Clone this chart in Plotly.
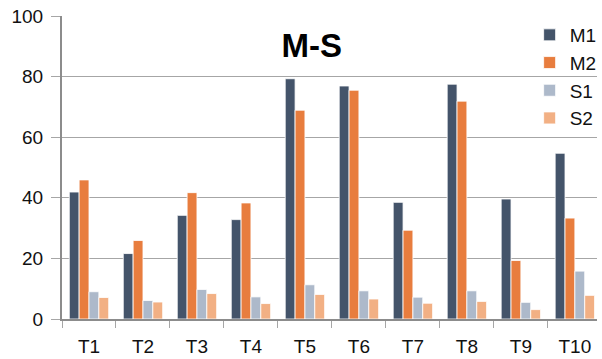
import plotly.graph_objects as go

categories = ["T1", "T2", "T3", "T4", "T5", "T6", "T7", "T8", "T9", "T10"]
m1 = [41.9, 21.6, 34.2, 32.8, 79.3, 76.9, 38.5, 77.5, 39.6, 54.7]
m2 = [45.9, 25.9, 41.7, 38.3, 68.9, 75.5, 29.3, 71.9, 19.3, 33.3]
s1 = [9.0, 6.1, 9.75, 7.3, 11.3, 9.3, 7.2, 9.3, 5.5, 15.8]
s2 = [7.1, 5.6, 8.4, 5.1, 8.1, 6.6, 5.2, 5.8, 3.1, 7.8]
series_names = ["M1", "M2", "S1", "S2"]
series_colors = ["#44546A", "#E87D3E", "#ADB9CA", "#F2B084"]
y_ticks = [0, 20, 40, 60, 80, 100]

FONT = "Liberation Sans"
fig = go.Figure()
for name, vals, col in zip(series_names, [m1, m2, s1, s2], series_colors):
    fig.add_trace(go.Bar(
        x=categories, y=vals, name=name, legendgroup=name,
        marker=dict(color=col, line=dict(color="white", width=0.8)),
    ))

fig.update_layout(
    width=602, height=359,
    margin=dict(l=62, r=0, t=16, b=40),
    paper_bgcolor="white", plot_bgcolor="white",
    barmode="group", bargap=0.27, bargroupgap=0,
    font=dict(family=FONT, size=19, color="#111111"),
    title=dict(text="<b>M-S</b>", x=0.518, xanchor="center",
               y=1 - 45 / 359, yanchor="middle",
               font=dict(family=FONT, size=33, color="#000000")),
    legend=dict(x=(534 - 62) / 540, xanchor="left", y=1.0, yanchor="top",
                font=dict(family=FONT, size=19, color="#111111"),
                tracegroupgap=0, bgcolor="rgba(0,0,0,0)"),
    showlegend=True,
)
fig.update_xaxes(
    range=[-0.5, 9.41], showline=True, linecolor="#8C8C8C", linewidth=2,
    ticks="outside", tickson="boundaries", ticklen=7, tickcolor="#A6A6A6", tickwidth=1,
    showgrid=False, ticklabelstandoff=9, tickfont=dict(family=FONT, size=19, color="#111111"),
)
fig.update_yaxes(
    range=[0, 100], tickvals=y_ticks, showline=True, linecolor="#8C8C8C", linewidth=2,
    ticks="outside", ticklen=9, tickcolor="#A6A6A6", tickwidth=1,
    showgrid=True, gridcolor="#A6A6A6", gridwidth=1, zeroline=False,
    ticklabelstandoff=4, tickfont=dict(family=FONT, size=19, color="#111111"),
)
fig.write_html(
    "out.html",
    config={"displayModeBar": False},
    post_script="document.body.style.margin='0';document.body.style.overflow='hidden';",
)
